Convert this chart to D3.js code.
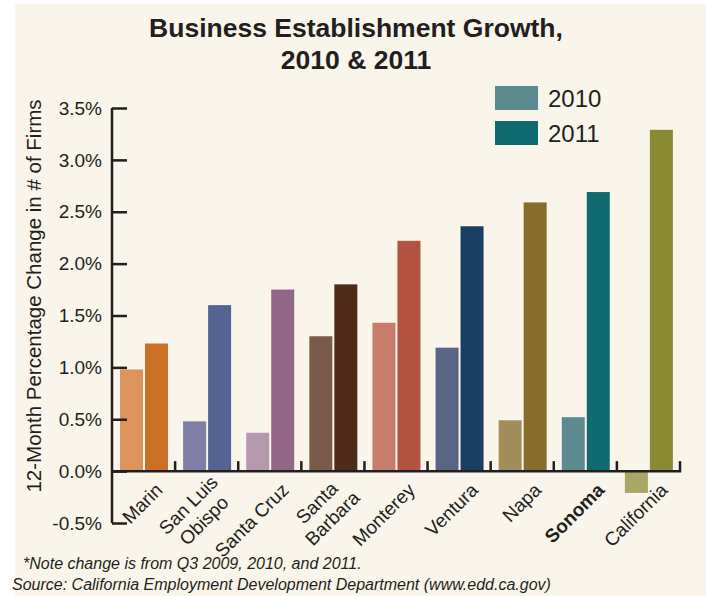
<!DOCTYPE html>
<html>
<head>
<meta charset="utf-8">
<script src="https://cdn.jsdelivr.net/npm/d3@7"></script>
<style>
  body { margin: 0; background: #fff; }
  svg text { font-family: "Liberation Sans", Arial, sans-serif; fill: #231f20; }
</style>
</head>
<body>
<div id="chart"></div>
<script>
(function() {

  // -----------------------------
  // 1. DATA
  // -----------------------------
  const categories = ["Marin", "San Luis\nObispo", "Santa Cruz", "Santa\nBarbara", "Monterey",
                      "Ventura", "Napa", "Sonoma", "California"];
  const years = ["2010", "2011"];
  const values2010 = [0.98, 0.48, 0.37, 1.30, 1.43, 1.19, 0.49, 0.52, -0.21];
  const values2011 = [1.23, 1.60, 1.75, 1.80, 2.22, 2.36, 2.59, 2.69, 3.29];
  const colors2010 = ["#dc935c", "#8080a6", "#b698ae", "#7a5b4a", "#c87d6a", "#5a6585", "#a38d5a", "#5d8990", "#a8a765"];
  const colors2011 = ["#cd7027", "#536393", "#916686", "#4f2c19", "#b35442", "#193f62", "#866d2c", "#106a70", "#8a8a35"];
  const yTicks = [-0.5, 0, 0.5, 1.0, 1.5, 2.0, 2.5, 3.0, 3.5];
  const boldCategory = "Sonoma";
  const legendColors = ["#5d8990", "#106a70"];

  // -----------------------------
  // 2. SVG SETUP
  // -----------------------------
  const width = 707, height = 596;
  const ink = "#231f20";

  const svg = d3.select("#chart").append("svg")
      .attr("width", width)
      .attr("height", height);

  svg.append("rect")
      .attr("x", 15).attr("y", 4)
      .attr("width", 691).attr("height", 592)
      .attr("fill", "#f9f5ea");

  // Title
  const title = svg.append("text")
      .attr("text-anchor", "middle")
      .attr("font-weight", "bold")
      .attr("font-size", 26.5);
  title.append("tspan").attr("x", 356).attr("y", 37).text("Business Establishment Growth,");
  title.append("tspan").attr("x", 356).attr("y", 69).text("2010 & 2011");

  // -----------------------------
  // 3. SCALES
  // -----------------------------
  const plot = {left: 112, right: 680, top: 108, bottom: 523};

  const x = d3.scaleBand().domain(categories).range([plot.left, plot.right]);
  const xSub = d3.scaleBand().domain(years).range([8, 56]).paddingInner(0.08);
  const y = d3.scaleLinear().domain([-0.5, 3.5]).range([plot.bottom, plot.top]);

  // -----------------------------
  // 4. BARS
  // -----------------------------
  const barData = [];
  categories.forEach((c, i) => {
    barData.push({cat: c, year: "2010", value: values2010[i], color: colors2010[i]});
    barData.push({cat: c, year: "2011", value: values2011[i], color: colors2011[i]});
  });

  svg.append("g").selectAll("rect")
      .data(barData)
      .enter().append("rect")
      .attr("x", d => x(d.cat) + xSub(d.year))
      .attr("width", xSub.bandwidth())
      .attr("y", d => y(Math.max(0, d.value)))
      .attr("height", d => Math.abs(y(d.value) - y(0)))
      .attr("fill", d => d.color);

  // -----------------------------
  // 5. AXES
  // -----------------------------
  const yAxis = svg.append("g")
      .attr("transform", `translate(${plot.left},0)`)
      .call(d3.axisRight(y).tickValues(yTicks).tickSize(15).tickFormat(""));
  yAxis.select(".domain").attr("stroke", ink).attr("stroke-width", 2.5)
      .attr("d", `M0,${plot.top}V${plot.bottom}`);
  yAxis.selectAll(".tick line").attr("stroke", ink).attr("stroke-width", 2.5);

  svg.append("g").selectAll("text")
      .data(yTicks)
      .enter().append("text")
      .attr("x", 102)
      .attr("y", d => y(d))
      .attr("dy", "0.35em")
      .attr("text-anchor", "end")
      .attr("font-size", 19)
      .text(d => d.toFixed(1) + "%");

  const xAxis = svg.append("g")
      .attr("transform", `translate(0,${y(0)})`);
  xAxis.append("line")
      .attr("x1", plot.left).attr("x2", plot.right + 1.2)
      .attr("stroke", ink).attr("stroke-width", 2.5);
  xAxis.selectAll(".xtick")
      .data(categories)
      .enter().append("line")
      .attr("x1", d => x(d) + x.bandwidth())
      .attr("x2", d => x(d) + x.bandwidth())
      .attr("y1", 0).attr("y2", -10)
      .attr("stroke", ink).attr("stroke-width", 2.5);

  // Category labels, rotated
  const lineH = 22;
  const labels = svg.append("g").selectAll("text")
      .data(categories)
      .enter().append("text")
      .attr("font-size", 19)
      .attr("font-weight", d => d === boldCategory ? "bold" : "normal")
      .attr("text-anchor", "middle")
      .attr("transform", d => `translate(${x(d) + x.bandwidth() / 2 + 15.5},486.5) rotate(-45)`);

  labels.each(function(d) {
    const el = d3.select(this);
    const lines = d.split("\n");
    const spans = lines.map((t, i) => el.append("tspan")
        .attr("y", (i - (lines.length - 1) / 2) * lineH)
        .attr("dy", "0.35em")
        .text(t));
    const maxW = d3.max(spans, s => s.node().getComputedTextLength());
    spans.forEach(s => s.attr("x", -maxW / 2));
  });

  // Y axis title
  svg.append("text")
      .attr("transform", "translate(41,296) rotate(-90)")
      .attr("text-anchor", "middle")
      .attr("font-size", 20.5)
      .text("12-Month Percentage Change in # of Firms");

  // -----------------------------
  // 6. LEGEND
  // -----------------------------
  const legend = svg.append("g").selectAll("g")
      .data(years)
      .enter().append("g")
      .attr("transform", (d, i) => `translate(495,${86 + i * 35})`);
  legend.append("rect")
      .attr("width", 43).attr("height", 24)
      .attr("fill", (d, i) => legendColors[i]);
  legend.append("text")
      .attr("x", 53).attr("y", 21)
      .attr("font-size", 24)
      .text(d => d);

  // -----------------------------
  // 7. NOTES
  // -----------------------------
  svg.append("text")
      .attr("x", 23).attr("y", 569)
      .attr("font-size", 16).attr("font-style", "italic")
      .text("*Note change is from Q3 2009, 2010, and 2011.");
  svg.append("text")
      .attr("x", 12).attr("y", 590)
      .attr("font-size", 16).attr("font-style", "italic")
      .text("Source: California Employment Development Department (www.edd.ca.gov)");

})();
</script>
</body>
</html>
